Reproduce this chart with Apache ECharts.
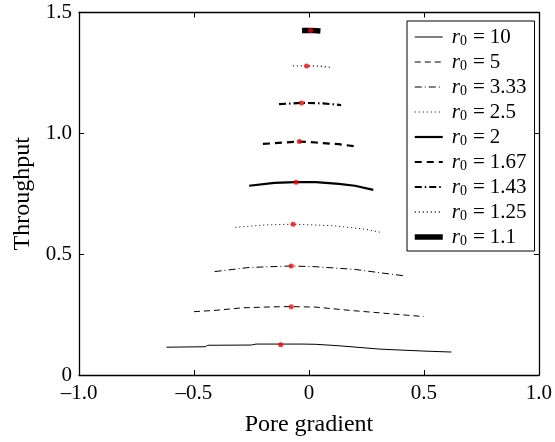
<!DOCTYPE html>
<html>
<head>
<meta charset="utf-8">
<script src="https://cdn.jsdelivr.net/npm/echarts@6/dist/echarts.min.js"></script>
<style>html,body{margin:0;padding:0;background:#fff}#c{width:555px;height:442px}</style>
</head>
<body>
<div id="c"></div>
<script>
// ---- data ----
var r0Labels = ['10', '5', '3.33', '2.5', '2', '1.67', '1.43', '1.25', '1.1'];
var xTickLabels = ['\u20131.0', '\u20130.5', '0', '0.5', '1.0'];
var yTickLabels = ['0', '0.5', '1.0', '1.5'];

var curve10   = [[-0.62,0.115],[-0.45,0.117],[-0.44,0.123],[-0.25,0.124],[-0.23,0.128],[-0.03,0.128],[0.03,0.127],[0.13,0.121],[0.31,0.107],[0.50,0.099],[0.62,0.095]];
var curve5    = [[-0.50,0.262],[-0.40,0.268],[-0.29,0.278],[-0.16,0.282],[-0.08,0.283],[0.03,0.281],[0.17,0.268],[0.31,0.257],[0.43,0.247],[0.50,0.242]];
var curve333  = [[-0.41,0.428],[-0.26,0.445],[-0.08,0.451],[0.03,0.448],[0.20,0.437],[0.31,0.423],[0.41,0.411]];
var curve25   = [[-0.32,0.611],[-0.19,0.621],[-0.07,0.624],[0.10,0.618],[0.24,0.604],[0.32,0.589]];
var curve2    = [[-0.26,0.783],[-0.15,0.795],[-0.06,0.798],[0.03,0.798],[0.13,0.791],[0.20,0.783],[0.28,0.766]];
var curve167  = [[-0.20,0.956],[-0.04,0.966],[0.03,0.962],[0.13,0.955],[0.20,0.946]];
var curve143  = [[-0.13,1.121],[-0.03,1.126],[0.06,1.124],[0.14,1.117]];
var curve125  = [[-0.07,1.279],[-0.01,1.279],[0.05,1.278],[0.09,1.273]];
var curve11   = [[-0.03,1.426],[0.01,1.426],[0.05,1.423]];
var optimumPoints = [[-0.123,0.125],[-0.077,0.282],[-0.077,0.451],[-0.069,0.624],[-0.056,0.798],[-0.042,0.966],[-0.032,1.126],[-0.010,1.279],[0.007,1.426]];

var curves = [curve10, curve5, curve333, curve25, curve2, curve167, curve143, curve125, curve11];

// ---- styles ----
var FONT = 'Liberation Serif';
var styles = [
  {w:1,   t:'solid'},
  {w:1,   t:[6,4]},
  {w:1,   t:[7,3,1,3]},
  {w:1,   t:[1,3]},
  {w:2.2, t:'solid'},
  {w:2.2, t:[7,5]},
  {w:2.2, t:[7,3,1.5,3]},
  {w:1.4, t:[1,3]},
  {w:5.5, t:'solid'}
];

var series = curves.map(function (d, i) {
  return {
    name: r0Labels[i], type: 'line', data: d, symbol: 'none', showSymbol: false,
    lineStyle: {color: '#000', width: styles[i].w, type: styles[i].t},
    itemStyle: {color: '#000'}, z: 2, animation: false
  };
});
series.push({
  name: 'opt', type: 'scatter', data: optimumPoints, symbolSize: 5,
  itemStyle: {color: '#ff0000'}, z: 5, animation: false
});

var legendData = r0Labels.map(function (n, i) {
  return {
    name: n,
    itemStyle: {opacity: 0},
    lineStyle: {color: '#000', width: styles[i].w, type: styles[i].t, opacity: 1}
  };
});

function xFmt(v) { var idx = Math.round((v + 1) / 0.5); return xTickLabels[idx] || ''; }
function yFmt(v) { var idx = Math.round(v / 0.5); return yTickLabels[idx] || ''; }

var axisCommon = {
  axisLine: {show: true, onZero: false, lineStyle: {color: '#000', width: 1.3}},
  axisTick: {show: true, inside: true, length: 5, lineStyle: {color: '#000', width: 1}},
  splitLine: {show: false}
};

var chart = echarts.init(document.getElementById('c'), null, {renderer: 'canvas'});
chart.setOption({
  backgroundColor: '#fff',
  animation: false,
  grid: {left: 79, right: 12.3, top: 12.5, bottom: 65.3, containLabel: false},
  xAxis: [
    Object.assign({
      type: 'value', min: -1, max: 1, interval: 0.5, position: 'bottom',
      name: 'Pore gradient', nameLocation: 'middle', nameGap: 38,
      nameTextStyle: {fontFamily: FONT, fontSize: 24, color: '#000'},
      axisLabel: {formatter: xFmt, fontFamily: FONT, fontSize: 21, color: '#000', margin: 8}
    }, axisCommon),
    Object.assign({
      type: 'value', min: -1, max: 1, interval: 0.5, position: 'top',
      axisLabel: {show: false}
    }, axisCommon)
  ],
  yAxis: [
    Object.assign({
      type: 'value', min: 0, max: 1.5, interval: 0.5, position: 'left',
      name: 'Throughput', nameLocation: 'middle', nameGap: 42,
      nameTextStyle: {fontFamily: FONT, fontSize: 24, color: '#000'},
      axisLabel: {formatter: yFmt, fontFamily: FONT, fontSize: 21, color: '#000', margin: 7}
    }, axisCommon),
    Object.assign({
      type: 'value', min: 0, max: 1.5, interval: 0.5, position: 'right',
      axisLabel: {show: false}
    }, axisCommon)
  ],
  legend: {
    data: legendData,
    orient: 'vertical', left: 407, top: 21,
    padding: [5, 8, 3, 5],
    itemWidth: 28, itemHeight: 14, itemGap: 3,
    backgroundColor: '#fff', borderColor: '#000', borderWidth: 1,
    selectedMode: false,
    formatter: function (name) { return '{i|r}{s|0}{e|=}{t|' + name + '}'; },
    textStyle: {
      color: '#000', fontFamily: FONT, fontSize: 21, lineHeight: 22,
      rich: {
        i: {fontFamily: FONT, fontSize: 21, fontStyle: 'italic', lineHeight: 22, padding: [0, 0, 0, 4], color: '#000'},
        s: {fontFamily: FONT, fontSize: 14, lineHeight: 14, verticalAlign: 'bottom', color: '#000'},
        e: {fontFamily: FONT, fontSize: 21, lineHeight: 22, padding: [0, 5, 0, 6], color: '#000'},
        t: {fontFamily: FONT, fontSize: 21, lineHeight: 22, color: '#000'}
      }
    }
  },
  series: series
});
</script>
</body>
</html>
